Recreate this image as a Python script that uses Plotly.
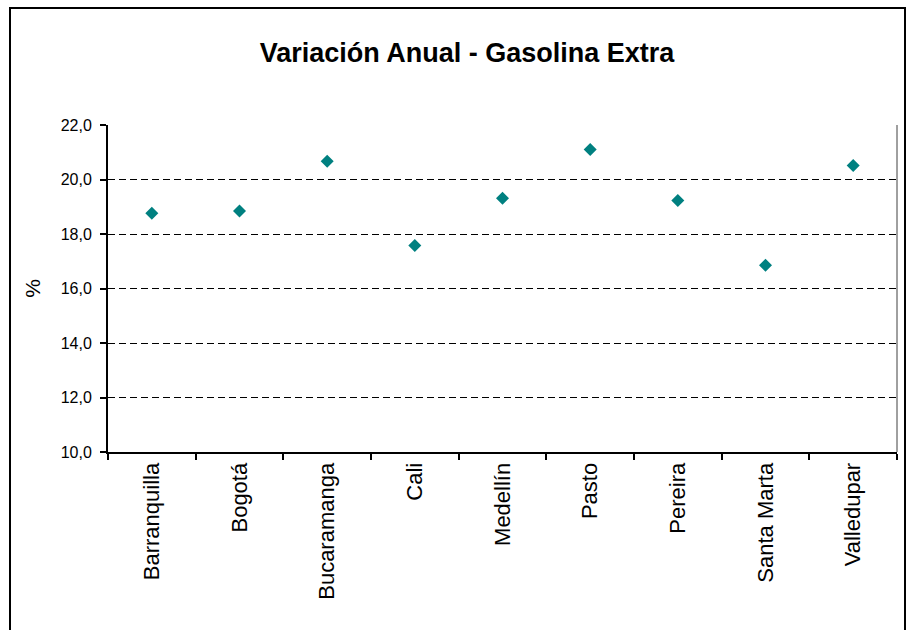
import plotly.graph_objects as go

# Annual change of extra-grade gasoline price by city (%)
cities = ["Barranquilla", "Bogotá", "Bucaramanga", "Cali", "Medellín",
          "Pasto", "Pereira", "Santa Marta", "Valledupar"]
variation = [18.76, 18.84, 20.67, 17.58, 19.31, 21.10, 19.23, 16.85, 20.51]

y_ticks = [10, 12, 14, 16, 18, 20, 22]

FONT = "Liberation Sans, Arial, sans-serif"

fig = go.Figure(
    go.Scatter(
        x=cities,
        y=variation,
        mode="markers",
        marker=dict(symbol="diamond", size=10, color="#008080"),
        showlegend=False,
    )
)

fig.update_layout(
    width=911,
    height=630,
    margin=dict(l=108, r=14, t=125, b=178),
    paper_bgcolor="white",
    plot_bgcolor="white",
    separators=",.",
    font=dict(family=FONT, color="black"),
    title=dict(
        text="<b>Variación Anual - Gasolina Extra</b>",
        x=467 / 911,
        xref="container",
        xanchor="center",
        y=1 - 53 / 630,
        yref="container",
        yanchor="middle",
        font=dict(size=27, family=FONT, color="black"),
    ),
)

fig.update_xaxes(
    type="category",
    tickangle=-90,
    tickfont=dict(size=22, family=FONT),
    showline=True,
    linecolor="black",
    linewidth=2,
    ticks="outside",
    tickson="boundaries",
    ticklen=6,
    tickwidth=1.5,
    tickcolor="black",
    showgrid=False,
    range=[-0.5, len(cities) - 0.5],
)

fig.update_yaxes(
    range=[10, 22],
    tickvals=y_ticks,
    tickformat=".1f",
    tickfont=dict(size=16, family=FONT),
    ticklabelstandoff=5,
    showline=True,
    linecolor="black",
    linewidth=2,
    ticks="outside",
    ticklen=6,
    tickwidth=1.5,
    tickcolor="black",
    showgrid=True,
    gridcolor="black",
    gridwidth=1,
    griddash="7px,4px",
    zeroline=False,
    title=dict(text="%", font=dict(size=21, family=FONT), standoff=14),
)

# Plot-area right edge and outer chart frame
fig.add_shape(type="line", xref="paper", yref="paper",
              x0=1, x1=1, y0=0, y1=1,
              line=dict(color="#404040", width=1))
fig.add_shape(type="rect", xref="paper", yref="paper",
              x0=(10 - 108) / 789, x1=(905 - 108) / 789,
              y0=(452 - 640) / 327, y1=(452 - 8) / 327,
              line=dict(color="black", width=2), layer="above")

fig.write_html("out.html")
